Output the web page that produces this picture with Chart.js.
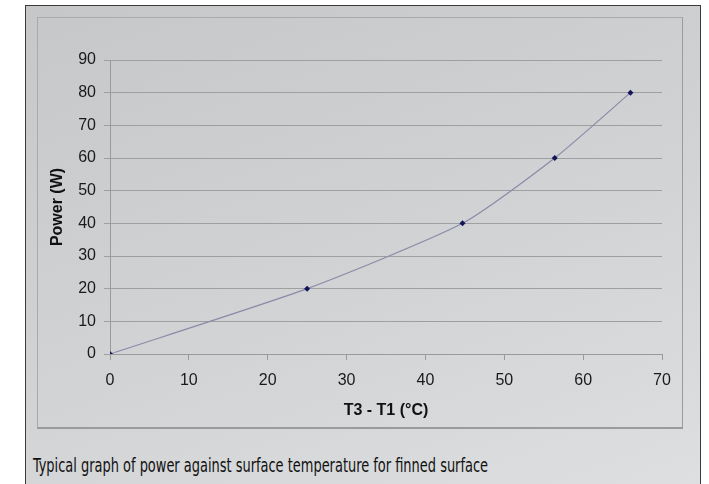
<!DOCTYPE html>
<html>
<head>
<meta charset="utf-8">
<script src="https://cdn.jsdelivr.net/npm/chart.js@4"></script>
<style>
    body { margin: 0; background: #fff; width: 709px; height: 484px; overflow: hidden; position: relative; }
    #marco {
        position: absolute; left: 25px; top: 5px; width: 674px; height: 490px;
        border: 1px solid #3a3a3a;
        background: linear-gradient(160deg, #c6c7c9 0%, #d2d3d5 55%, #dedfe1 100%);
    }
    #caja {
        position: absolute; left: 11px; top: 11px; width: 644px; height: 409px;
        border: 1px solid #a9aaac; border-right-color: #9a9b9d; border-bottom: 2px solid #9a9b9d;
    }
    #leyenda {
        position: absolute; left: 7px; top: 450px;
        font-family: "Liberation Sans Narrow", "DejaVu Sans Condensed", sans-serif;
        font-size: 19px; line-height: 19px; color: #111; white-space: nowrap; transform-origin: 0 0;
    }
</style>
</head>
<body>
<div id="marco">
    <div id="caja"><canvas id="grafico" width="644" height="409"></canvas></div>
    <div id="leyenda">Typical graph of power against surface temperature for finned surface</div>
</div>
<script>
const temperaturas = [0, 25, 44.7, 56.4, 66];
const potencias = [0, 20, 40, 60, 80];
const ticksX = [0, 10, 20, 30, 40, 50, 60, 70];
const ticksY = [0, 10, 20, 30, 40, 50, 60, 70, 80, 90];

// la leyenda usa una letra estrecha: se ajusta al ancho del original
const leyenda = document.getElementById("leyenda");
leyenda.style.transform = `scaleX(${455 / leyenda.offsetWidth})`;

const puntos = temperaturas.map((t, i) => ({ x: t, y: potencias[i] }));
const fuente = { family: "Liberation Sans, Arial, sans-serif", size: 16 };
const fuenteTitulo = { family: "Liberation Sans, Arial, sans-serif", size: 16, weight: "bold" };

new Chart(document.getElementById("grafico"), {
    type: "scatter",
    data: {
        datasets: [{
            label: "Power",
            data: puntos,
            showLine: true,
            borderColor: "#8a8aa8",
            borderWidth: 1.2,
            tension: 0.2,
            pointStyle: "rectRot",
            pointRadius: 3,
            pointBackgroundColor: "#14145a",
            pointBorderColor: "#14145a",
            pointBorderWidth: 0
        }]
    },
    options: {
        responsive: false,
        animation: false,
        layout: { padding: { left: 0, top: 42, right: 20, bottom: 0 } },
        plugins: { legend: { display: false }, tooltip: { enabled: false } },
        scales: {
            x: {
                type: "linear",
                min: 0,
                max: 70,
                afterBuildTicks: axis => { axis.ticks = ticksX.map(v => ({ value: v })); },
                afterFit: axis => { axis.height = 73; },
                grid: { drawOnChartArea: false, color: "#9a9a9a", tickLength: 6 },
                border: { color: "#9a9a9a" },
                ticks: { color: "#1a1a1a", font: fuente, padding: 11, maxRotation: 0 },
                title: {
                    display: true,
                    text: "T3 - T1 (°C)",
                    color: "#111",
                    font: fuenteTitulo,
                    padding: { top: 1, bottom: 7 }
                }
            },
            y: {
                min: 0,
                max: 90,
                afterBuildTicks: axis => { axis.ticks = ticksY.map(v => ({ value: v })); },
                afterFit: axis => { axis.width = 72; },
                grid: { color: "#9e9fa1", tickLength: 6 },
                border: { color: "#9a9a9a" },
                ticks: { color: "#1a1a1a", font: fuente, padding: 8 },
                title: {
                    display: true,
                    text: "Power (W)",
                    color: "#111",
                    font: fuenteTitulo,
                    padding: { top: 10, bottom: 0 }
                }
            }
        }
    }
});
</script>
</body>
</html>
